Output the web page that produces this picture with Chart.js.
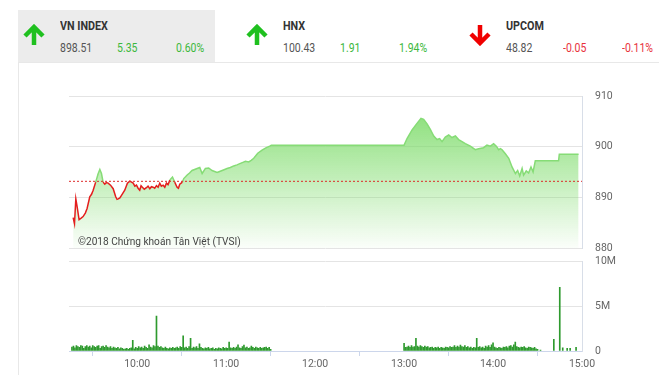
<!DOCTYPE html>
<html>
<head>
<meta charset="utf-8">
<title>VN INDEX</title>
<script src="https://cdn.jsdelivr.net/npm/chart.js@4.4.0/dist/chart.umd.min.js"></script>
<style>
  body { margin: 0; width: 660px; height: 375px; background: #fff; position: relative; overflow: hidden;
         font-family: Roboto, 'Liberation Sans', sans-serif; }
  .card { position: absolute; left: 18px; top: 62px; width: 640px; height: 320px;
          border-left: 1px solid #e8e8e8; border-top: 1px solid #e8e8e8; }
  .idx { position: absolute; top: 10px; height: 52px; }
  .idx.active { background: #ececec; }
  .idx svg { position: absolute; left: 5px; top: 14px; }
  .idx .name { position: absolute; left: 42px; top: 8px; font-size: 12.5px; font-weight: bold; color: #333;
               transform: scaleX(0.86); transform-origin: left; }
  .idx .val { position: absolute; top: 30px; font-size: 12.5px; color: #555;
              transform: scaleX(0.84); transform-origin: left; }
  .up { color: #3cb83c !important; }
  .down { color: #e8323c !important; }
  .copy { position: absolute; left: 78px; top: 234px; font-size: 11.5px; color: #444; white-space: nowrap;
          transform: scaleX(0.88); transform-origin: left; }
  #priceWrap { position: absolute; left: 0; top: 85px; width: 660px; height: 170px; }
  #volWrap { position: absolute; left: 0; top: 255px; width: 660px; height: 120px; }
</style>
</head>
<body>
<div class="card"></div>
<div id="header"></div>
<div id="priceWrap"><canvas id="priceChart"></canvas></div>
<div id="volWrap"><canvas id="volChart"></canvas></div>
<div class="copy">©2018 Chứng khoán Tân Việt (TVSI)</div>

<script>
// header
const indexNames = ['VN INDEX', 'HNX', 'UPCOM'];
const indexValues = ['898.51', '100.43', '48.82'];
const indexChanges = ['5.35', '1.91', '-0.05'];
const indexPercents = ['0.60%', '1.94%', '-0.11%'];

// price (minutes after 9:15)
const refPrice = 893.16;
const priceTimes = [
  1.8, 2.7, 3.6, 4.5, 5.8, 7.2, 8.5, 10, 11.2, 13, 14.2, 15.3, 17, 18.7, 19.8, 20.9, 22, 23.1, 24.2, 25.4,
  27, 28.8, 30.5, 31.4, 32.2, 33.3, 34.4, 36.6, 38.4, 40, 41.2, 42.3, 43.4, 44.5, 45.6, 46.7, 47.6, 48.5, 49.8, 51.2,
  52.3, 53.5, 54.6, 55.7, 56.8, 58, 59.1, 60.2, 61.3, 62.5, 63.6, 64.7, 65.8, 67, 68.8, 70.3, 71.9, 72.8, 73.7, 75.5,
  76.4, 78.7, 80.3, 82, 83.7, 85.4, 87.2, 88.8, 91, 93.2, 95.5, 97.2, 98.9, 100.6, 102.3, 104, 105.6, 107.8, 110.1, 112.3,
  114.6, 116.3, 118, 120.2, 121.9, 123.6, 126.3, 129.2, 132.1, 134.4, 135.5,
  225, 227, 230.4, 233.7, 236.4, 238.2, 240.5, 242.7, 245, 247.2, 249, 250.6, 252.8, 255.1, 257.3, 259.6, 261.8, 264.1, 266.3, 269.7,
  273, 275.3, 278.6, 280.9, 283.2, 285.4, 287.2, 288.8, 290, 291.1, 293.3, 295.6, 297.8, 300.1, 301.6, 303, 304.6, 305.6, 307.4, 309,
  310.6, 312, 313.5, 329.2, 329.7, 342.7
];
const priceValues = [
  886.0, 884.8, 889.7, 888.1, 885.6, 885.9, 886.2, 886.9, 887.8, 890.1, 890.6, 891.4, 893.0, 894.7, 895.5, 894.7, 893.0, 892.6, 892.9, 892.8,
  892.4, 891.7, 890.1, 889.6, 889.7, 889.9, 890.4, 891.4, 892.8, 893.2, 893.0, 892.8, 892.2, 892.4, 891.8, 891.4, 892.3, 892.0, 891.6, 891.9,
  892.2, 891.7, 892.1, 892.0, 891.8, 892.3, 892.0, 892.8, 892.2, 892.4, 892.0, 892.8, 892.5, 893.4, 894.0, 893.0, 892.0, 891.8, 892.6, 893.0,
  893.7, 894.4, 894.8, 895.3, 895.5, 895.7, 895.9, 894.7, 895.7, 895.8, 895.3, 895.1, 894.9, 895.1, 895.3, 895.5, 895.7, 895.9, 896.2, 896.4,
  896.7, 896.9, 897.1, 897.0, 897.3, 897.7, 898.7, 899.3, 899.8, 900.1, 900.3,
  900.3, 901.6, 903.3, 904.6, 905.6, 905.4, 904.5, 903.4, 902.1, 901.4, 901.6, 901.0, 901.9, 902.3, 901.8, 902.1, 901.4, 901.0, 900.6, 900.1,
  899.4, 899.6, 899.8, 900.3, 900.1, 900.6, 900.1, 899.4, 899.6, 899.4, 898.6, 897.7, 896.0, 894.7, 895.3, 894.2, 895.7, 894.4, 895.2, 894.8,
  896.0, 895.0, 897.2, 897.2, 898.5, 898.5
];
const priceTicks = [880, 890, 900, 910];

// volume in millions, one bar per minute
const morningStart = 1;
const morningVolume = [
  0.45, 0.55, 0.35, 0.6, 0.5, 0.4, 0.6, 0.55, 0.3, 0.5,
  0.6, 0.45, 0.55, 0.35, 0.6, 0.5, 0.4, 0.55, 0.6, 0.3,
  0.5, 0.55, 0.4, 0.6, 0.45, 0.35, 0.5, 0.3, 0.45, 0.35,
  0.3, 0.4, 0.25, 0.35, 0.3, 0.2, 0.25, 0.3, 0.2, 0.3,
  0.35, 1.2, 0.25, 0.4, 0.3, 0.5, 0.35, 0.45, 0.3, 0.55,
  0.4, 0.3, 0.7, 0.45, 0.35, 0.6, 0.5, 3.9, 0.55, 0.4,
  0.5, 0.35, 0.3, 0.45, 0.3, 0.25, 0.35, 0.3, 0.4, 0.3,
  0.35, 0.45, 0.3, 0.5, 0.4, 1.7, 0.35, 0.45, 0.3, 0.5,
  1.4, 0.3, 0.45, 0.35, 0.5, 0.3, 0.8, 0.4, 0.3, 0.25,
  0.35, 0.3, 0.4, 0.25, 0.3, 0.35, 0.2, 0.3, 0.25, 0.35,
  0.3, 0.25, 0.4, 0.3, 0.35, 0.3, 1.0, 0.35, 0.3, 0.4,
  0.3, 0.45, 0.7, 0.35, 0.3, 0.5, 0.65, 0.35, 0.45, 0.3,
  0.35, 0.55, 0.4, 0.3, 0.45, 0.35, 0.3, 0.4, 0.3, 0.35,
  0.4, 0.45, 0.3, 0.4, 0.2
];
const afternoonStart = 225;
const afternoonVolume = [
  0.85, 0.4, 0.45, 0.55, 0.4, 0.6, 0.45, 0.5, 1.4, 0.55,
  0.45, 0.6, 0.5, 0.4, 0.55, 0.45, 0.5, 0.35, 0.4, 0.45,
  0.3, 0.4, 0.35, 0.45, 0.3, 0.4, 0.35, 0.3, 0.45, 0.4,
  0.35, 0.5, 0.4, 0.45, 0.6, 0.4, 0.55, 0.45, 0.65, 0.5,
  0.45, 0.6, 0.4, 0.5, 0.35, 0.45, 0.3, 0.4, 0.35, 1.4,
  0.4, 0.5, 0.35, 0.45, 0.3, 0.55, 0.45, 0.6, 0.4, 0.7,
  0.9, 0.45, 0.35, 0.3, 0.4, 0.35, 0.3, 0.45, 0.4, 0.5,
  0.35, 0.55, 0.6, 0.45, 0.7, 1.0, 0.5, 0.4, 0.35, 0.45,
  0.4, 0.5, 0.35, 0.3, 0.45, 0.4, 0.35, 0.3, 0.4, 0.25, 0.2
];
const closingTimes = [317, 326, 330, 332, 335, 337, 341];
const closingVolume = [0.1, 1.3, 7.1, 0.35, 0.3, 0.3, 0.4];
const volumeTicks = [0, 5, 10];

const tickMinutes = [45, 105, 165, 225, 285, 345];
const tickLabels = ['10:00', '11:00', '12:00', '13:00', '14:00', '15:00'];

const xMin = -1, xMax = 345;
const green = '#86dc76';
const red = '#e41e1e';
const tickFont = { family: "Roboto, 'Liberation Sans', sans-serif", size: 10.5 };

// header boxes
const header = document.getElementById('header');
const boxLeft = [18, 241, 464];
const upArrow = '<svg width="22" height="22" viewBox="0 0 22 22"><path d="M11 21 V4 M2 12 L11 3 L20 12" stroke="COL" stroke-width="4.5" fill="none"/></svg>';
const downArrow = '<svg width="22" height="22" viewBox="0 0 22 22"><path d="M11 1 V18 M2 10 L11 19 L20 10" stroke="COL" stroke-width="4.5" fill="none"/></svg>';
indexNames.forEach((name, i) => {
  const isUp = !indexChanges[i].startsWith('-');
  const box = document.createElement('div');
  box.className = 'idx' + (i === 0 ? ' active' : '');
  box.style.left = boxLeft[i] + 'px';
  box.style.width = (i === 0 ? 197 : 200) + 'px';
  const cls = isUp ? 'up' : 'down';
  box.innerHTML = (isUp ? upArrow.replace('COL', '#1fc01f') : downArrow.replace('COL', '#f00000')) +
    `<div class="name">${name}</div>` +
    `<div class="val" style="left:42px">${indexValues[i]}</div>` +
    `<div class="val ${cls}" style="left:99px">${indexChanges[i]}</div>` +
    `<div class="val ${cls}" style="left:158px">${indexPercents[i]}</div>`;
  header.appendChild(box);
});

function setTimeTicks(axis) {
  axis.ticks = tickMinutes.map(v => ({ value: v }));
}

// right-hand value axis: labels pushed right with an invisible tick, so no extra vertical padding
function rightAxis(min, max, values, label) {
  return {
    position: 'right',
    min: min,
    max: max,
    afterBuildTicks: axis => { axis.ticks = values.map(v => ({ value: v })); },
    afterFit: axis => { axis.width = 78; },
    grid: { color: '#e4e4e4', drawTicks: true, tickLength: 13, tickColor: 'rgba(0,0,0,0)' },
    border: { display: true, color: '#d8dee8' },
    ticks: { padding: 0, color: '#666', font: tickFont, callback: label },
  };
}

const pricePoints = priceTimes.map((t, i) => ({ x: t, y: priceValues[i] }));

new Chart(document.getElementById('priceChart'), {
  type: 'line',
  data: {
    datasets: [
      {
        // reference (previous close)
        data: [{ x: xMin, y: refPrice }, { x: xMax, y: refPrice }],
        borderColor: '#dd2a2a',
        borderWidth: 1,
        borderDash: [2, 2],
        pointRadius: 0,
        fill: false,
      },
      {
        // price line, red below reference
        data: pricePoints,
        borderWidth: 1.5,
        pointRadius: 0,
        tension: 0,
        fill: false,
        segment: {
          borderColor: c => ((c.p0.parsed.y + c.p1.parsed.y) / 2 < refPrice ? red : green),
        },
      },
      {
        // area under the price
        data: pricePoints,
        borderWidth: 0,
        pointRadius: 0,
        tension: 0,
        fill: 'start',
        backgroundColor: c => {
          const a = c.chart.chartArea;
          if (!a) return 'rgba(130,220,110,0.5)';
          const g = c.chart.ctx.createLinearGradient(0, a.top, 0, a.bottom);
          g.addColorStop(0, 'rgba(120,218,100,0.95)');
          g.addColorStop(1, 'rgba(120,218,100,0.03)');
          return g;
        },
      },
    ],
  },
  options: {
    responsive: true,
    maintainAspectRatio: false,
    animation: false,
    layout: { padding: { left: 69, top: 11, bottom: 7, right: 0 } },
    plugins: { legend: { display: false }, tooltip: { enabled: false } },
    scales: {
      x: { type: 'linear', min: xMin, max: xMax, display: false },
      y: rightAxis(880, 910, priceTicks, v => v),
    },
  },
});

const volPoints = []
  .concat(morningVolume.map((v, i) => ({ x: morningStart + i, y: v })))
  .concat(afternoonVolume.map((v, i) => ({ x: afternoonStart + i, y: v })))
  .concat(closingVolume.map((v, i) => ({ x: closingTimes[i], y: v })));

new Chart(document.getElementById('volChart'), {
  type: 'bar',
  data: {
    datasets: [{
      data: volPoints,
      backgroundColor: '#2e9a2e',
      barThickness: 1,
    }],
  },
  options: {
    responsive: true,
    maintainAspectRatio: false,
    animation: false,
    layout: { padding: { left: 69, top: 6, bottom: 0, right: 0 } },
    plugins: { legend: { display: false }, tooltip: { enabled: false } },
    scales: {
      x: {
        type: 'linear',
        min: xMin,
        max: xMax,
        offset: false,
        afterBuildTicks: setTimeTicks,
        afterFit: axis => { axis.height = 24; },
        grid: { drawOnChartArea: false, color: '#ccd6eb', tickLength: 5 },
        border: { color: '#ccd6eb' },
        ticks: {
          padding: 2,
          color: '#666',
          font: tickFont,
          maxRotation: 0,
          callback: v => tickLabels[tickMinutes.indexOf(v)],
        },
      },
      y: rightAxis(0, 10, volumeTicks, v => (v === 0 ? '0' : v + 'M')),
    },
  },
});
</script>
</body>
</html>
